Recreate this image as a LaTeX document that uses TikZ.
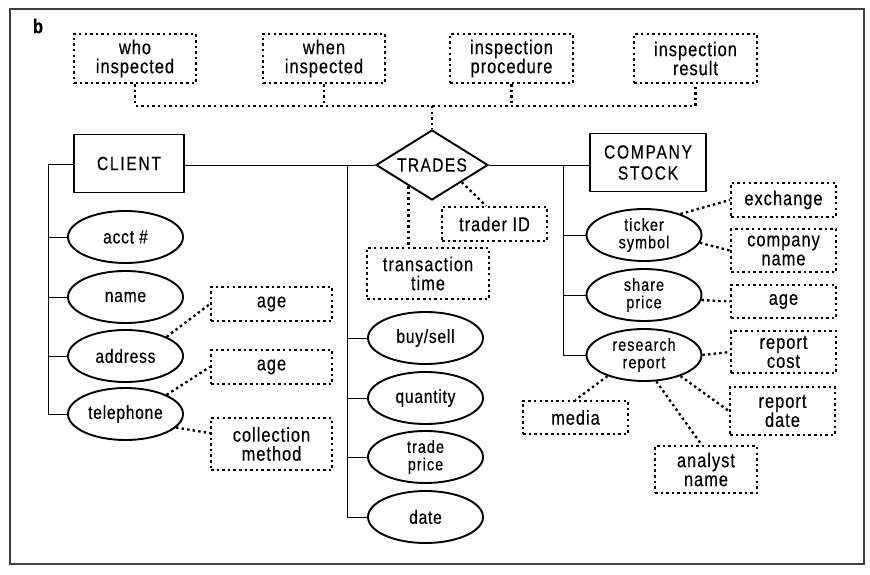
\documentclass[tikz,border=0pt]{standalone}
\usepackage{fontspec}
\setmainfont{Liberation Sans}[FakeStretch=0.82, LetterSpace=4, FakeBold=0.4]
\usetikzlibrary{shapes.geometric}
\begin{document}
\begin{tikzpicture}[x=1pt,y=-1pt,
 ent/.style={draw, line width=1.9pt, minimum width=110pt, minimum height=58pt, inner sep=0pt, font=\fontsize{19}{21}\selectfont\addfontfeature{LetterSpace=9}, align=center},
 attr/.style={draw, ellipse, line width=1.9pt, minimum width=115pt, minimum height=52pt, inner sep=0pt, font=\fontsize{19}{16}\selectfont, align=center},
 attrtwo/.style={attr, font=\fontsize{17.5}{17.5}\selectfont\addfontfeature{LetterSpace=6}},
 dbox/.style={draw, line width=2.3pt, dash pattern=on 2.5pt off 3.1pt, inner sep=0pt, font=\fontsize{20}{19}\selectfont\addfontfeature{LetterSpace=5}, align=center},
 conn/.style={line width=0.9pt},
 dconn/.style={line width=2.3pt, dash pattern=on 2.5pt off 3.1pt}]
\useasboundingbox (0,0) rectangle (870,575);
\draw[line width=1.2pt, black!75] (10,9) rectangle (864,564);
\node[font=\fontsize{20}{20}\selectfont\bfseries] (lab) at (38,26) {b};

% top inspection boxes
\node[dbox, minimum width=122pt, minimum height=49pt] (who) at (135,58.5) {who\\inspected};
\node[dbox, minimum width=122pt, minimum height=49pt] (when) at (324,58.5) {when\\inspected};
\node[dbox, minimum width=123pt, minimum height=49pt] (proc) at (511.5,58.5) {inspection\\procedure};
\node[dbox, minimum width=123pt, minimum height=49pt] (res) at (695.5,58.5) {inspection\\result};

% entities and relationship
\node[ent] (client) at (129,163.5) {CLIENT};
\node[ent, minimum width=116pt] (stock) at (648,162.5) {COMPANY\\STOCK};
\node[diamond, draw, line width=1.9pt, minimum width=112pt, minimum height=70pt, inner sep=0pt] (trades) at (432,165) {};
\node[font=\fontsize{19}{19}\selectfont\addfontfeature{LetterSpace=7}] (tradestxt) at (trades) {TRADES};

\coordinate (bus) at (432,106);
\draw[dconn] (who.south) |- (bus) -| (res.south);
\draw[dconn] (when.south) -- (when.south |- bus);
\draw[dconn] (proc.south) -- (proc.south |- bus);
\draw[dconn] (bus) -- (trades.north);

% client attributes
\node[attr] (acct) at (125.5,237) {acct \#};
\node[attr] (name) at (125.5,297) {name};
\node[attr] (addr) at (125.5,356) {address};
\node[attr] (tel) at (125.5,414) {telephone};
\node[dbox, minimum width=121pt, minimum height=34pt] (age1) at (271.5,304) {age};
\node[dbox, minimum width=121pt, minimum height=34pt] (age2) at (271.5,367) {age};
\node[dbox, minimum width=121pt, minimum height=52pt] (coll) at (271.5,444) {collection\\method};

\coordinate (lv) at (48,164);
\draw[conn] (client.west |- lv) -- (lv) |- (tel.west);
\draw[conn] (acct.west) -- (acct.west -| lv);
\draw[conn] (name.west) -- (name.west -| lv);
\draw[conn] (addr.west) -- (addr.west -| lv);
\draw[dconn] (addr.25) -- (age1.west);
\draw[dconn] (tel.25) -- (age2.west);
\draw[dconn] (tel.-15) -- (coll.170);

% relationship attributes
\node[attr] (buy) at (425.5,338) {buy/sell};
\node[attr] (qty) at (425.5,398) {quantity};
\node[attrtwo] (tprice) at (425.5,457) {trade\\price};
\node[attr] (date) at (425.5,517) {date};
\node[dbox, minimum width=122pt, minimum height=51pt] (trans) at (428,273.5) {transaction\\time};
\node[dbox, minimum width=105pt, minimum height=34pt] (trader) at (494.5,224) {trader ID};

\coordinate (mv) at (347,165);
\draw[conn] (client.east |- trades.west) -- (trades.west);
\draw[conn] (mv) |- (date.west);
\draw[conn] (buy.west) -- (buy.west -| mv);
\draw[conn] (qty.west) -- (qty.west -| mv);
\draw[conn] (tprice.west) -- (tprice.west -| mv);
\draw[dconn] (trades.-138) -- (trades.-138 |- trans.north);
\draw[dconn] (trades.-30) -- (trader.115);

% company stock attributes
\node[attrtwo] (tick) at (644,235) {ticker\\symbol};
\node[attrtwo] (share) at (644,295) {share\\price};
\node[attrtwo] (rr) at (644,355) {research\\report};
\node[dbox, minimum width=105pt, minimum height=34pt] (exch) at (783.5,200) {exchange};
\node[dbox, minimum width=105pt, minimum height=43pt] (cname) at (783.5,250.5) {company\\name};
\node[dbox, minimum width=105pt, minimum height=33pt] (age3) at (783.5,301.5) {age};
\node[dbox, minimum width=105pt, minimum height=42pt] (rcost) at (783.5,352) {report\\cost};
\node[dbox, minimum width=105pt, minimum height=48pt] (rdate) at (782.5,411) {report\\date};
\node[dbox, minimum width=105pt, minimum height=33pt] (media) at (575.5,417.5) {media};
\node[dbox, minimum width=102pt, minimum height=47pt] (anal) at (706,469.5) {analyst\\name};

\coordinate (rv) at (563,165);
\draw[conn] (trades.east) -- (trades.east -| stock.west);
\draw[conn] (rv) |- (rr.west);
\draw[conn] (tick.west) -- (tick.west -| rv);
\draw[conn] (share.west) -- (share.west -| rv);
\draw[dconn] (tick.30) -- (exch.west);
\draw[dconn] (tick.-8) -- (cname.west);
\draw[dconn] (share.-5) -- (age3.west);
\draw[dconn] (rr.east) -- (rcost.west);
\draw[dconn] (rr.-30) -- (rdate.west);
\draw[dconn] (rr.-65) -- (anal.100);
\draw[dconn] (rr.-150) -- (media.north);
\end{tikzpicture}
\end{document}
